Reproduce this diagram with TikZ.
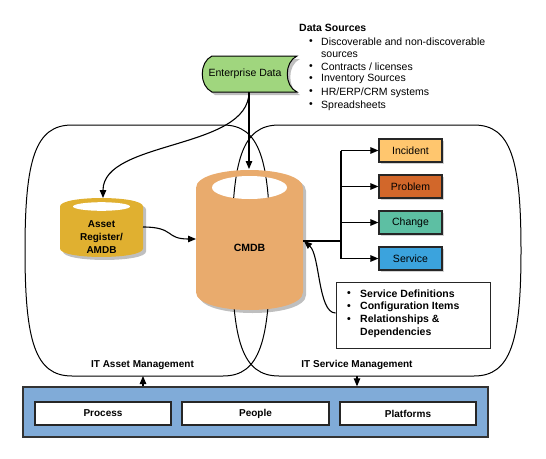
\documentclass[tikz,border=0pt]{standalone}
\usepackage{fontspec}
\setmainfont{Liberation Sans}
\usetikzlibrary{arrows.meta,shadows}
\definecolor{cmdbc}{HTML}{E9AB6D}
\definecolor{assetc}{HTML}{E0B030}
\definecolor{entc}{HTML}{A0D67E}
\definecolor{incc}{HTML}{FFC66E}
\definecolor{probc}{HTML}{D2672A}
\definecolor{chgc}{HTML}{5DBFA3}
\definecolor{svcc}{HTML}{3BA3DD}
\definecolor{panelc}{HTML}{80ABD8}
\newcommand\leftregionpath{(72,125) -- (223,125) .. controls (260,125) and (270,160) .. (270,250.5) .. controls (270,341) and (260,376) .. (223,376) -- (72,376) .. controls (35,376) and (25,341) .. (25,250.5) .. controls (25,160) and (35,125) .. (72,125) -- cycle}
\newcommand\rightregionpath{(279,125) -- (474,125) .. controls (511,125) and (521,160) .. (521,250.5) .. controls (521,341) and (511,376) .. (474,376) -- (279,376) .. controls (242,376) and (232,341) .. (232,250.5) .. controls (232,160) and (242,125) .. (279,125) -- cycle}
\begin{document}
\begin{tikzpicture}[x=1pt,y=-1pt,
  font=\fontsize{10.5}{12.5}\selectfont,
  region/.style={draw=black, line width=1pt},
  conn/.style={draw=black, line width=1.1pt},
  arr/.style={conn, -{Triangle[length=8pt,width=6.5pt]}},
  shade/.style={fill=black, opacity=0.25},
  colbox/.style={draw=black!85, line width=1.2pt, minimum width=63pt, minimum height=23pt, inner sep=0pt,
    drop shadow={shadow xshift=2pt,shadow yshift=-2pt,opacity=.35}},
  whitebox/.style={draw=black!85, fill=white, line width=1.2pt, minimum height=23pt, inner sep=0pt, font=\fontsize{10}{12}\selectfont\bfseries},
  lbl/.style={inner sep=0pt, anchor=west},
  regionlbl/.style={inner sep=0pt, font=\fontsize{10}{12}\selectfont\bfseries},
  bul/.style={inner sep=0pt}]
\useasboundingbox (0,0) rectangle (546,458);

% regions
\draw[region] \leftregionpath;
\draw[region] \rightregionpath;
\node[regionlbl] (itam) at (142.5,365) {IT Asset Management};
\node[regionlbl] (itsm) at (357,365) {IT Service Management};

% Enterprise data
\fill[shade] (215,59) -- (300,59) .. controls (287,65) and (287,89) .. (300,95) -- (215,95) .. controls (202,89) and (202,65) .. (215,59) -- cycle;
\draw[fill=entc, line width=1pt] (212,56) -- (297,56) .. controls (284,62) and (284,86) .. (297,92) -- (212,92) .. controls (199,86) and (199,62) .. (212,56) -- cycle;
\node[inner sep=0pt] (ent) at (245,74) {Enterprise Data};
\coordinate (entb) at (249,92);

% Data sources
\node[lbl, font=\fontsize{10.5}{12.5}\selectfont\bfseries] (dsh) at (299,28) {Data Sources};
\node[bul] (b1) at (311,41.7) {•}; \node[lbl] (d1) at (321,41.7) {Discoverable and non-discoverable};
\node[lbl] (d1b) at (321,54.3) {sources};
\node[bul] (b2) at (311,66.7) {•}; \node[lbl] (d2) at (321,66.7) {Contracts / licenses};
\node[bul] (b3) at (311,79.3) {•}; \node[lbl] (d3) at (321,79.3) {Inventory Sources};
\node[bul] (b4) at (311,92.3) {•}; \node[lbl] (d4) at (321,92.3) {HR/ERP/CRM systems};
\node[bul] (b5) at (311,105.3) {•}; \node[lbl] (d5) at (321,105.3) {Spreadsheets};

% CMDB cylinder
\fill[shade] (199,191) -- (199,295) .. controls (199,319) and (306,319) .. (306,295) -- (306,191) .. controls (306,167) and (199,167) .. (199,191) -- cycle;
\fill[cmdbc] (196,188) -- (196,292) .. controls (196,316) and (303,316) .. (303,292) -- (303,188) .. controls (303,164) and (196,164) .. (196,188) -- cycle;
\fill[white] (249.5,187.5) ellipse [x radius=37.5, y radius=11.5];
\begin{scope}
  \clip (249.5,187.5) ellipse [x radius=37.5, y radius=11.5];
  \draw[region] \leftregionpath;
  \draw[region] \rightregionpath;
\end{scope}
\node[inner sep=0pt, font=\fontsize{10.5}{12.5}\selectfont\bfseries] (cmdb) at (249.5,248) {CMDB};
\coordinate (cmdbt) at (249,169);
\coordinate (cmdbl) at (196,239);
\coordinate (cmdbr) at (303,241);
\coordinate (cmdbr2) at (304,241);

% Asset register cylinder
\fill[shade] (63,209.5) -- (63,251.5) .. controls (63,262.8) and (146,262.8) .. (146,251.5) -- (146,209.5) .. controls (146,198.2) and (63,198.2) .. (63,209.5) -- cycle;
\fill[assetc] (60,206.5) -- (60,248.5) .. controls (60,259.8) and (143,259.8) .. (143,248.5) -- (143,206.5) .. controls (143,195.2) and (60,195.2) .. (60,206.5) -- cycle;
\fill[white] (101.5,206.5) ellipse [x radius=28.5, y radius=4.3];
\node[inner sep=0pt, align=center, font=\fontsize{10}{13}\selectfont\bfseries] (asset) at (101.5,237) {Asset\\Register/\\AMDB};
\coordinate (assett) at (103,198);
\coordinate (assetr) at (143,227);

% arrows from enterprise data
\draw[arr] (entb) -- (cmdbt);
\draw[arr] (entb) .. controls (249,150) and (103,140) .. (assett);
\draw[arr] (assetr) .. controls (175,227) and (165,239) .. (cmdbl);

% process boxes
\node[colbox, fill=incc] (inc) at (410.5,150.5) {Incident};
\node[colbox, fill=probc] (prob) at (410.5,186.5) {Problem};
\node[colbox, fill=chgc] (chg) at (410.5,222.5) {Change};
\node[colbox, fill=svcc] (svc) at (410.5,258.5) {Service};
\coordinate (bx) at (341,241);
\draw[conn] (cmdbr) -- (bx);
\draw[conn] (inc.west -| bx) -- (svc.west -| bx);
\draw[arr] (inc.west -| bx) -- (inc.west);
\draw[arr] (prob.west -| bx) -- (prob.west);
\draw[arr] (chg.west -| bx) -- (chg.west);
\draw[arr] (svc.west -| bx) -- (svc.west);

% definitions box
\node[draw=black!85, fill=white, line width=1pt, minimum width=154pt, minimum height=66pt, inner sep=0pt] (defs) at (413,315) {};
\begin{scope}[every node/.style={font=\fontsize{10.5}{12.5}\selectfont\bfseries}]
\node[bul] (e1) at (349,294) {•}; \node[lbl] (t1) at (360,294) {Service Definitions};
\node[bul] (e2) at (349,307) {•}; \node[lbl] (t2) at (360,307) {Configuration Items};
\node[bul] (e3) at (349,320) {•}; \node[lbl] (t3) at (360,320) {Relationships \&};
\node[lbl] (t4) at (360,333) {Dependencies};
\end{scope}
\draw[arr] (defs.west |- 0,313) .. controls (318,313) and (320,255) .. (cmdbr2);

% bottom panel
\node[draw=black!80, fill=panelc, line width=1.3pt, minimum width=465pt, minimum height=50pt, inner sep=0pt] (panel) at (255.5,412) {};
\node[whitebox, minimum width=136pt] (proc) at (103,413.5) {Process};
\node[whitebox, minimum width=147pt] (ppl) at (255.5,413.5) {People};
\node[whitebox, minimum width=136pt] (plat) at (408,413.5) {Platforms};
\coordinate (itamb) at (143,376);
\coordinate (itsmb) at (357,376);
\draw[arr] (panel.north -| itamb) -- (itamb);
\draw[arr] (itsmb) -- (panel.north -| itsmb);
\end{tikzpicture}
\end{document}
